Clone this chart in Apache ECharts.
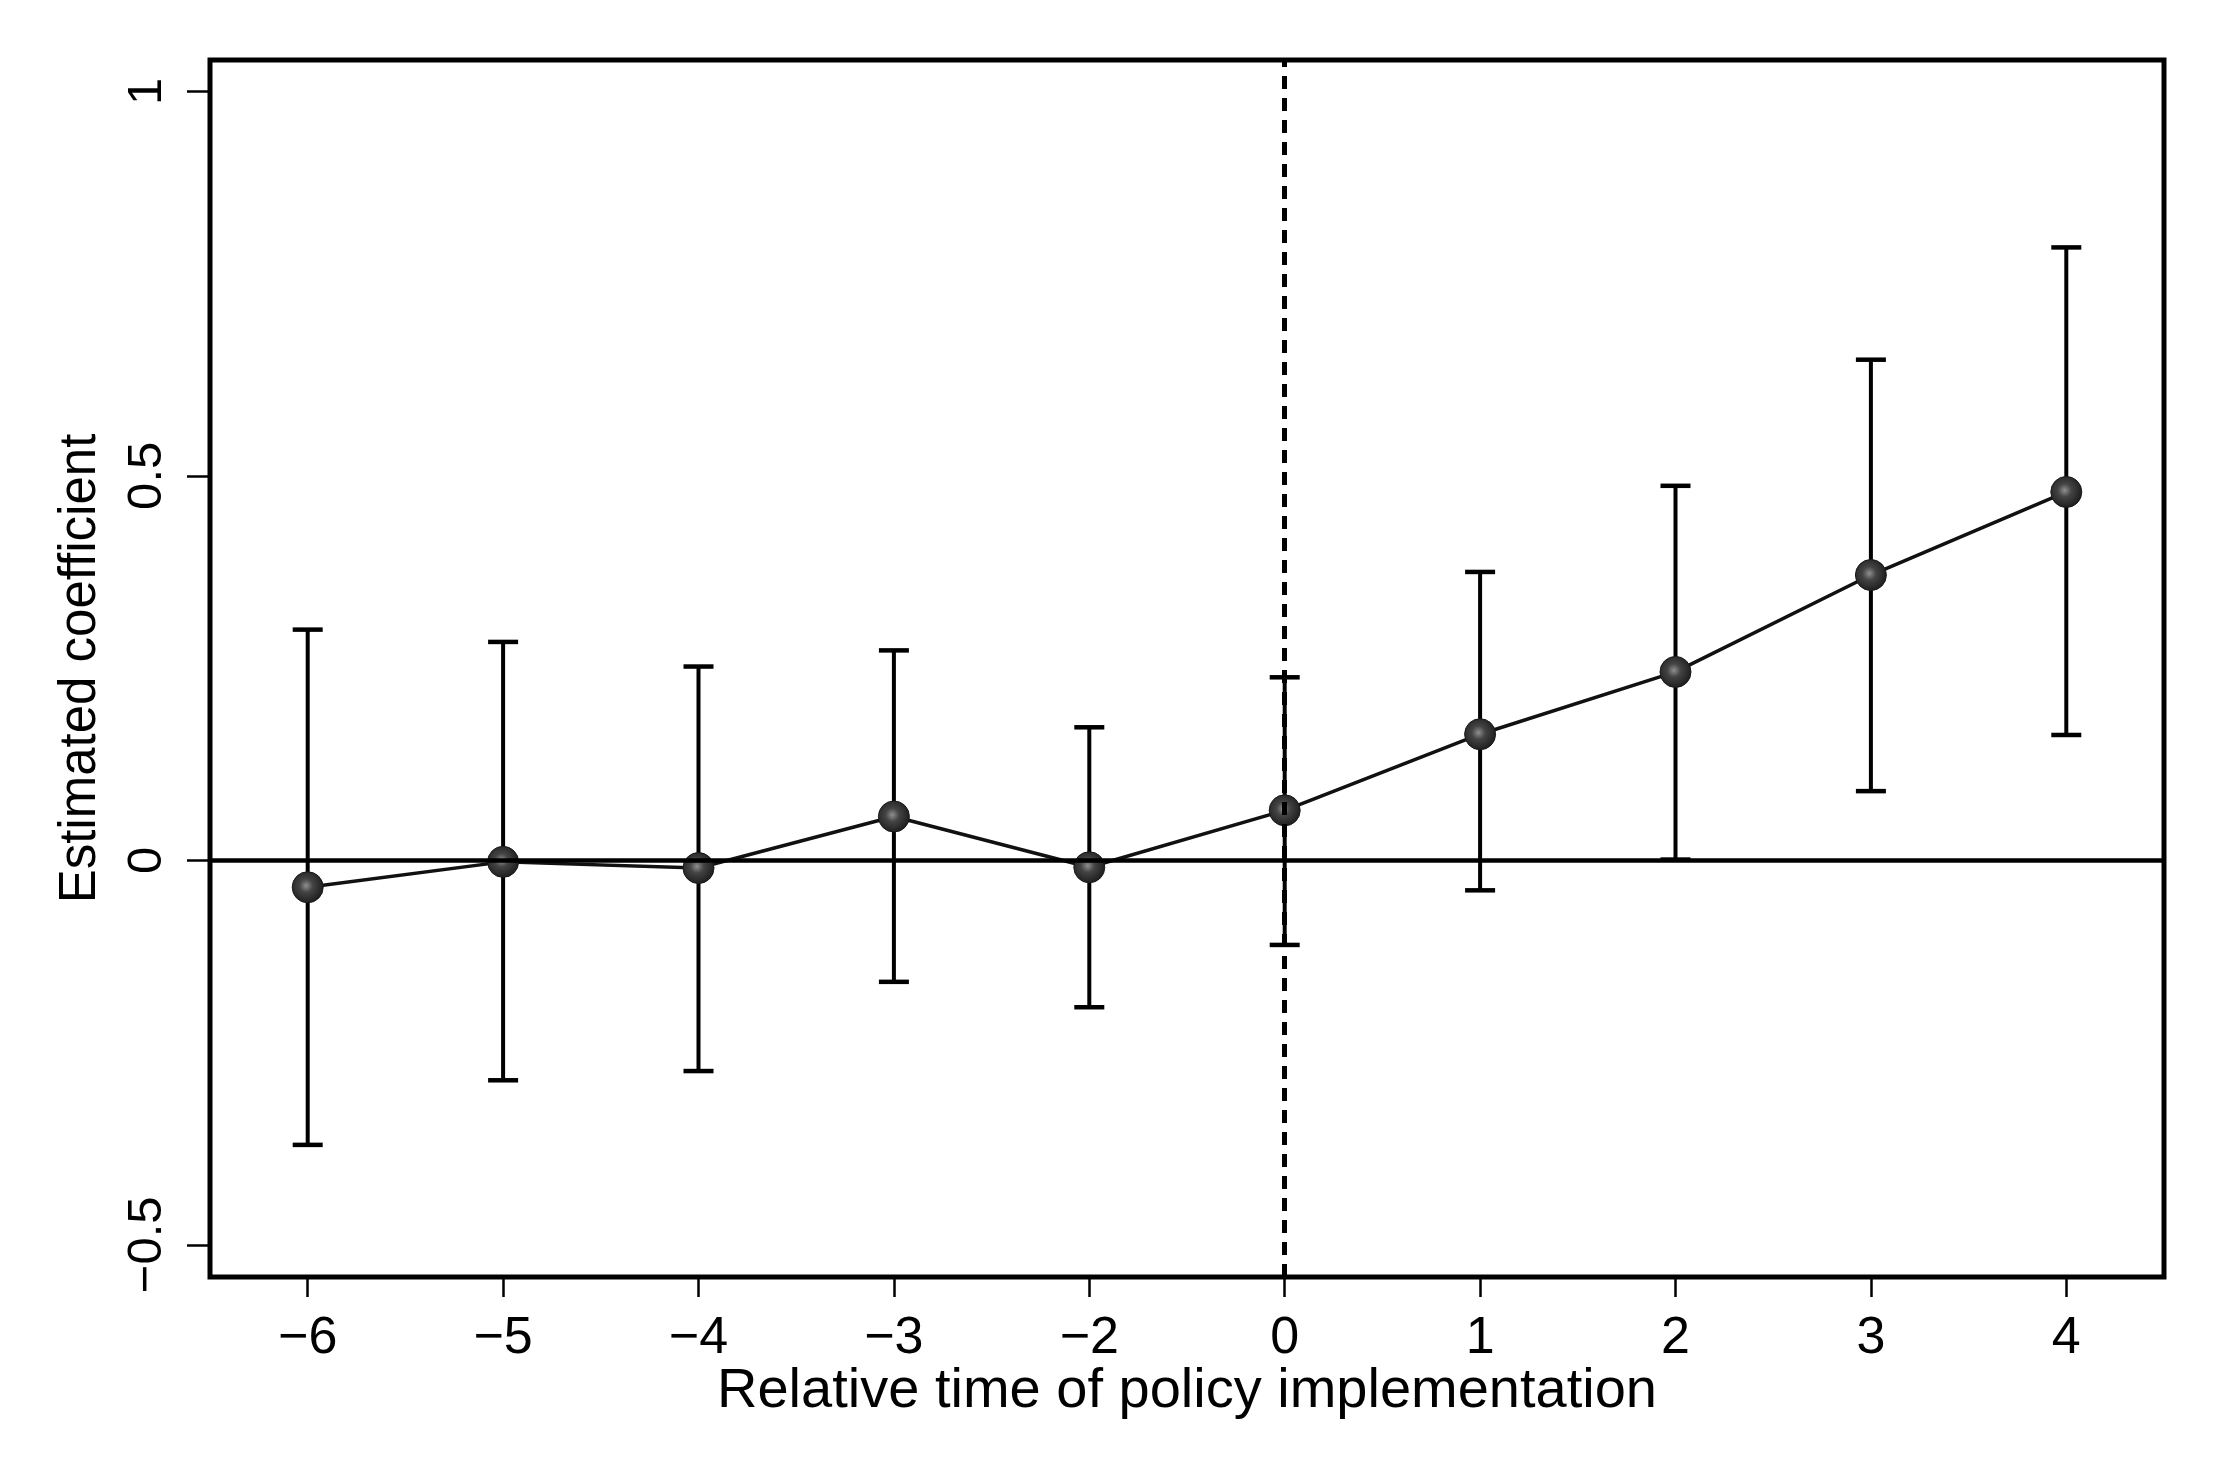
<!DOCTYPE html>
<html>
<head>
<meta charset="utf-8">
<script src="https://cdn.jsdelivr.net/npm/echarts@6/dist/echarts.min.js"></script>
<style>
html,body{margin:0;padding:0;background:#fff;}
#chart{width:2221px;height:1460px;}
</style>
</head>
<body>
<div id="chart"></div>
<script>
// ---- data ----
const categories = ["−6","−5","−4","−3","−2","0","1","2","3","4"];
const coef   = [-0.035, -0.002, -0.010, 0.057, -0.009, 0.065, 0.164, 0.245, 0.371, 0.479];
const ciLow  = [-0.370, -0.286, -0.274, -0.158, -0.191, -0.110, -0.039, 0.001, 0.090, 0.163];
const ciHigh = [ 0.300,  0.284,  0.252,  0.273,  0.173,  0.238,  0.375, 0.487, 0.651, 0.797];
const yTickValues = [-0.5, 0, 0.5, 1];
const yTickLabels = ["−0.5", "0", "0.5", "1"];
const policyCategory = "0";
const xTitle = "Relative time of policy implementation";
const yTitle = "Estimated coefficient";

const FONT = "'Liberation Sans', Arial, Helvetica, sans-serif";
const chart = echarts.init(document.getElementById('chart'), null, {renderer: 'canvas'});

const errData = categories.map((c, i) => [i, ciLow[i], ciHigh[i]]);

const option = {
  animation: false,
  backgroundColor: '#fff',
  grid: {
    left: 210, right: 57, top: 60, bottom: 183,
    show: true, borderColor: '#000', borderWidth: 5, backgroundColor: 'transparent'
  },
  xAxis: {
    type: 'category',
    data: categories,
    boundaryGap: true,
    axisLine: {show: false, onZero: false},
    axisTick: {show: true, alignWithLabel: true, length: 20, lineStyle: {color: '#000', width: 2.5}},
    axisLabel: {color: '#000', fontFamily: FONT, fontSize: 52, margin: 36, interval: 0},
    splitLine: {show: false},
    name: xTitle,
    nameLocation: 'middle',
    nameGap: 87,
    nameMoveOverlap: false,
    nameTextStyle: {color: '#000', fontFamily: FONT, fontSize: 56}
  },
  yAxis: {
    type: 'value',
    min: -0.5418,
    max: 1.0407,
    axisLine: {show: false, onZero: false},
    axisTick: {show: true, length: 23, customValues: yTickValues, lineStyle: {color: '#000', width: 2.5}},
    axisLabel: {
      color: '#000', fontFamily: FONT, fontSize: 49, rotate: 90, margin: 38,
      customValues: yTickValues,
      formatter: v => {
        const k = yTickValues.findIndex(t => Math.abs(t - v) < 1e-9);
        return k >= 0 ? yTickLabels[k] : '';
      }
    },
    splitLine: {show: false},
    name: yTitle,
    nameLocation: 'middle',
    nameRotate: 90,
    nameGap: 104,
    nameTextStyle: {color: '#000', fontFamily: FONT, fontSize: 51}
  },
  series: [
    {
      type: 'custom',
      name: 'ci',
      z: 2,
      data: errData,
      encode: {x: 0, y: [1, 2]},
      renderItem: function (params, api) {
        const x = api.value(0);
        const lo = api.coord([x, api.value(1)]);
        const hi = api.coord([x, api.value(2)]);
        const hw = 15;
        return {
          type: 'group',
          children: [
            {type: 'line', shape: {x1: lo[0], y1: lo[1], x2: hi[0], y2: hi[1]}, style: {stroke: '#000', lineWidth: 4}},
            {type: 'line', shape: {x1: hi[0] - hw, y1: hi[1], x2: hi[0] + hw, y2: hi[1]}, style: {stroke: '#000', lineWidth: 4.5}},
            {type: 'line', shape: {x1: lo[0] - hw, y1: lo[1], x2: lo[0] + hw, y2: lo[1]}, style: {stroke: '#000', lineWidth: 4.5}}
          ]
        };
      }
    },
    {
      type: 'line',
      name: 'ref',
      z: 3,
      data: [],
      silent: true,
      markLine: {
        silent: true,
        symbol: ['none', 'none'],
        label: {show: false},
        data: [
          {yAxis: 0, lineStyle: {color: '#000', width: 4.5, type: 'solid'}},
          {xAxis: categories.indexOf(policyCategory), lineStyle: {color: '#000', width: 5, type: [13, 9]}}
        ]
      }
    },
    {
      type: 'line',
      name: 'coef',
      z: 4,
      data: coef,
      symbol: 'circle',
      symbolSize: 31,
      lineStyle: {color: '#111', width: 3.5},
      itemStyle: {
        color: new echarts.graphic.RadialGradient(0.45, 0.45, 0.6, [
          {offset: 0, color: '#8f8f8f'},
          {offset: 0.35, color: '#444'},
          {offset: 1, color: '#181818'}
        ]),
        borderColor: '#1a1a1a',
        borderWidth: 1
      }
    }
  ]
};
chart.setOption(option);
</script>
</body>
</html>
